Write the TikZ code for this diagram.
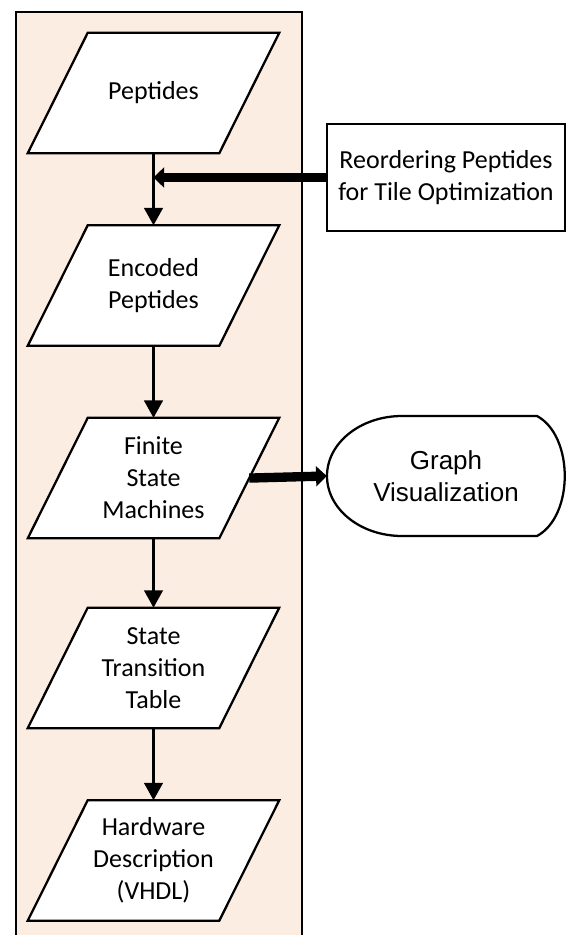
\documentclass[tikz,border=0pt]{standalone}
\usepackage{fontspec}
\setmainfont{Carlito}
\newfontfamily\arialfont{Liberation Sans}
\usepackage{xcolor}
\usepackage{tikz}
\usetikzlibrary{arrows.meta,positioning,backgrounds}
\definecolor{peach}{RGB}{252,237,227}

\tikzset{
  data/.style={minimum width=188.25pt, minimum height=90pt, inner sep=0pt,
    align=center, font=\fontsize{19.5}{24}\selectfont},
  dataframe/.style={draw, line width=1.7pt, fill=white},
  flow/.style={line width=1.7pt, -{Triangle[length=13pt,width=14pt]}},
  bigflow/.style={line width=7pt, -{Triangle[length=8pt,width=15pt]}}
}

\begin{document}
\begin{tikzpicture}[x=0.75pt,y=-0.75pt]
\useasboundingbox (0,0) rectangle (566,935);

% Main chain of data
\node[data] (pep) at (153.5,93) {Peptides};
\node[data,below=54pt of pep] (enc) {Encoded\\Peptides};
\node[data,below=54pt of enc] (fsm) {Finite\\State\\Machines};
\node[data,below=52pt of fsm] (stt) {State\\Transition\\Table};
\node[data,below=54pt of stt] (vhdl) {Hardware\\Description\\(VHDL)};

% Column and slanted frames behind the text
\begin{scope}[on background layer]
\fill[peach] (16,12) rectangle (302,945);
\draw[line width=1.6pt] (16,945) -- (16,12) -- (302,12) -- (302,945);
\foreach \n in {pep,enc,fsm,stt,vhdl}
  \draw[dataframe] (\n.south west) -- ([xshift=-45pt]\n.south east)
    -- (\n.north east) -- ([xshift=45pt]\n.north west) -- cycle;
\end{scope}

% Side steps
\node[draw,line width=1.7pt,minimum width=178.5pt,minimum height=80.25pt,inner sep=3pt,
  align=center,font=\fontsize{19.5}{24}\selectfont] (reorder) at (446,177.5)
  {Reordering Peptides\\for Tile Optimization};
\node[minimum width=178.5pt,minimum height=90pt,inner sep=0pt,align=center,
  font=\arialfont\fontsize{19.5}{24}\selectfont] (graph) at (446,476) {Graph\\Visualization};
\draw[line width=1.7pt] (402,416) -- (537,416) .. controls (574,436) and (574,516) .. (537,536)
  -- (402,536) arc[start angle=90,end angle=270,x radius=75,y radius=60] -- cycle;

% Arrows
\draw[flow] (pep.south) -- (enc.north);
\draw[flow] (enc.south) -- (fsm.north);
\draw[flow] (fsm.south) -- (stt.north);
\draw[flow] (stt.south) -- (vhdl.north);
\draw[bigflow] (reorder.west) -- (reorder.west -| pep.south);
\draw[bigflow] ([xshift=-22.5pt]fsm.east) -- (graph.west);
\end{tikzpicture}
\end{document}
